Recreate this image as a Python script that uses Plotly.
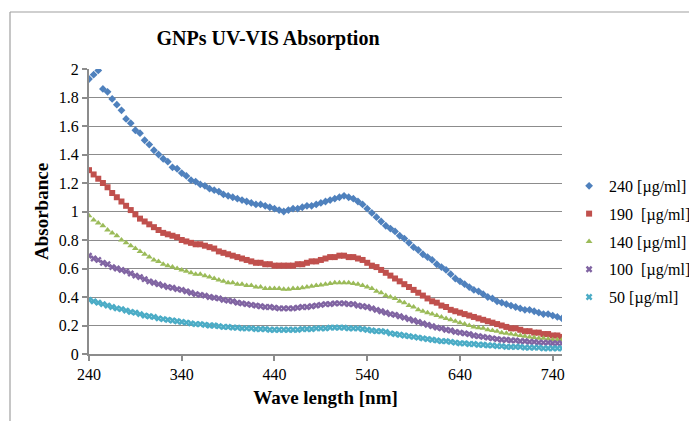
import plotly.graph_objects as go

wavelength = list(range(240, 755, 5))

abs_240 = [1.93, 1.96, 1.99, 1.86, 1.84, 1.79, 1.75, 1.71, 1.65, 1.62,
           1.57, 1.55, 1.50, 1.47, 1.43, 1.40, 1.37, 1.35, 1.31, 1.30,
           1.27, 1.25, 1.22, 1.21, 1.19, 1.18, 1.16, 1.15, 1.14, 1.12,
           1.11, 1.10, 1.09, 1.08, 1.07, 1.06, 1.05, 1.05, 1.04, 1.03,
           1.02, 1.01, 1.00, 1.01, 1.02, 1.02, 1.03, 1.04, 1.04, 1.05,
           1.06, 1.07, 1.08, 1.09, 1.10, 1.11, 1.10, 1.09, 1.07, 1.05,
           1.02, 0.99, 0.96, 0.93, 0.90, 0.88, 0.86, 0.83, 0.81, 0.78,
           0.75, 0.73, 0.70, 0.68, 0.66, 0.63, 0.61, 0.59, 0.56, 0.53,
           0.51, 0.49, 0.47, 0.45, 0.44, 0.42, 0.40, 0.39, 0.37, 0.36,
           0.35, 0.34, 0.33, 0.32, 0.31, 0.31, 0.30, 0.29, 0.28, 0.28,
           0.27, 0.26, 0.25]

abs_190 = [1.29, 1.26, 1.23, 1.20, 1.17, 1.13, 1.10, 1.07, 1.04, 1.01,
           0.98, 0.95, 0.93, 0.91, 0.89, 0.87, 0.85, 0.84, 0.83, 0.82,
           0.80, 0.79, 0.78, 0.77, 0.77, 0.76, 0.75, 0.74, 0.72, 0.71,
           0.70, 0.69, 0.68, 0.67, 0.66, 0.65, 0.64, 0.64, 0.63, 0.63,
           0.62, 0.62, 0.62, 0.62, 0.62, 0.63, 0.63, 0.64, 0.65, 0.65,
           0.66, 0.67, 0.68, 0.68, 0.69, 0.69, 0.68, 0.68, 0.67, 0.66,
           0.64, 0.62, 0.61, 0.59, 0.57, 0.55, 0.53, 0.51, 0.49, 0.47,
           0.45, 0.43, 0.41, 0.39, 0.37, 0.36, 0.34, 0.33, 0.31, 0.30,
           0.29, 0.28, 0.27, 0.26, 0.25, 0.24, 0.23, 0.22, 0.21, 0.20,
           0.19, 0.18, 0.18, 0.17, 0.16, 0.16, 0.15, 0.15, 0.14, 0.14,
           0.13, 0.13, 0.12]

abs_140 = [0.97, 0.94, 0.92, 0.90, 0.87, 0.85, 0.83, 0.80, 0.78, 0.76,
           0.74, 0.72, 0.70, 0.68, 0.66, 0.65, 0.63, 0.62, 0.61, 0.60,
           0.59, 0.58, 0.57, 0.56, 0.56, 0.55, 0.54, 0.53, 0.52, 0.51,
           0.50, 0.50, 0.49, 0.49, 0.48, 0.48, 0.47, 0.47, 0.46, 0.46,
           0.46, 0.46, 0.455, 0.455, 0.46, 0.46, 0.465, 0.47, 0.475, 0.48,
           0.485, 0.49, 0.495, 0.50, 0.50, 0.50, 0.50, 0.495, 0.49, 0.48,
           0.47, 0.46, 0.44, 0.43, 0.41, 0.40, 0.39, 0.37, 0.36, 0.34,
           0.33, 0.31, 0.30, 0.29, 0.28, 0.27, 0.26, 0.25, 0.24, 0.23,
           0.22, 0.21, 0.20, 0.19, 0.185, 0.18, 0.17, 0.165, 0.16, 0.15,
           0.145, 0.14, 0.135, 0.13, 0.125, 0.12, 0.115, 0.11, 0.11, 0.105,
           0.10, 0.10, 0.10]

abs_100 = [0.69, 0.67, 0.66, 0.64, 0.63, 0.61, 0.60, 0.59, 0.58, 0.565,
           0.55, 0.54, 0.525, 0.51, 0.50, 0.49, 0.48, 0.47, 0.465, 0.455,
           0.45, 0.44, 0.43, 0.42, 0.415, 0.41, 0.40, 0.395, 0.39, 0.38,
           0.375, 0.37, 0.36, 0.355, 0.35, 0.345, 0.34, 0.335, 0.33, 0.33,
           0.325, 0.32, 0.32, 0.32, 0.32, 0.325, 0.33, 0.33, 0.335, 0.34,
           0.345, 0.35, 0.35, 0.355, 0.355, 0.355, 0.35, 0.35, 0.34, 0.335,
           0.33, 0.32, 0.31, 0.30, 0.29, 0.28, 0.275, 0.265, 0.255, 0.245,
           0.235, 0.225, 0.215, 0.205, 0.195, 0.185, 0.18, 0.17, 0.165, 0.155,
           0.15, 0.145, 0.14, 0.13, 0.125, 0.12, 0.115, 0.11, 0.105, 0.10,
           0.10, 0.095, 0.095, 0.09, 0.09, 0.085, 0.085, 0.08, 0.08, 0.08,
           0.075, 0.075, 0.075]

abs_50 = [0.38, 0.37, 0.36, 0.35, 0.34, 0.33, 0.32, 0.315, 0.305, 0.295,
          0.29, 0.28, 0.27, 0.265, 0.26, 0.25, 0.245, 0.24, 0.235, 0.23,
          0.225, 0.22, 0.215, 0.21, 0.21, 0.205, 0.20, 0.20, 0.195, 0.19,
          0.19, 0.185, 0.185, 0.18, 0.18, 0.18, 0.175, 0.175, 0.175, 0.17,
          0.17, 0.17, 0.17, 0.17, 0.17, 0.17, 0.175, 0.175, 0.175, 0.18,
          0.18, 0.18, 0.185, 0.185, 0.185, 0.185, 0.18, 0.18, 0.18, 0.175,
          0.17, 0.165, 0.16, 0.16, 0.155, 0.145, 0.14, 0.135, 0.13, 0.125,
          0.12, 0.115, 0.11, 0.105, 0.10, 0.095, 0.09, 0.09, 0.085, 0.08,
          0.075, 0.075, 0.07, 0.07, 0.065, 0.065, 0.06, 0.06, 0.055, 0.055,
          0.05, 0.05, 0.05, 0.05, 0.045, 0.045, 0.045, 0.045, 0.04, 0.04,
          0.04, 0.04, 0.04]

series_names = ["240 [µg/ml]", "190\u00a0 [µg/ml]", "140 [µg/ml]",
                "100\u00a0 [µg/ml]", "50 [µg/ml]"]
series_values = [abs_240, abs_190, abs_140, abs_100, abs_50]
colors = ["#4F81BD", "#C0504D", "#9BBB59", "#8064A2", "#4BACC6"]
symbols = ["diamond", "square", "triangle-up", "x", "x"]
x_ticks = [240, 340, 440, 540, 640, 740]

FONT = "Liberation Serif, Times New Roman, serif"

# page body adds an 8px offset; figure is sized to end at the window edge
W, H = 689, 413
L, T, R, B = 81, 61, 135, 67
PW, PH = W - L - R, H - T - B

fig = go.Figure()
for i, (name, vals, col, sym) in enumerate(zip(series_names, series_values, colors, symbols)):
    fig.add_trace(go.Scatter(
        x=wavelength, y=vals, mode="markers", name=name,
        legendgroup=f"g{i}",
        marker=dict(color=col, symbol=sym, size=6, line=dict(width=0)),
    ))

grid = "#8C8C8C"
border = "#A0A0A0"
bx = (2 - L) / PW
by = (H - B - 4) / PH
fig.update_layout(
    width=W, height=H,
    margin=dict(l=L, r=R, t=T, b=B, autoexpand=False),
    paper_bgcolor="white", plot_bgcolor="white",
    font=dict(family=FONT, color="black", size=16),
    title=dict(text="<b>GNPs UV-VIS Absorption</b>", x=260/W, xanchor="center",
               y=1-30/H, yanchor="middle", xref="container", yref="container",
               font=dict(family=FONT, size=20, color="black")),
    showlegend=True,
    legend=dict(x=1.015, xanchor="left", y=0.395, yanchor="middle",
                font=dict(family=FONT, size=16, color="black"),
                tracegroupgap=4, traceorder="grouped", itemsizing="trace",
                bgcolor="rgba(0,0,0,0)"),
    xaxis=dict(range=[240, 750], tickvals=x_ticks, ticktext=[str(v) for v in x_ticks],
               showgrid=False, zeroline=False, showline=True, linecolor=grid, linewidth=2,
               ticks="outside", ticklen=5, tickcolor=grid, tickwidth=1.5,
               tickfont=dict(family=FONT, size=16),
               title=dict(text="<b>Wave length [nm]</b>", font=dict(family=FONT, size=19),
                          standoff=8)),
    yaxis=dict(range=[0, 2], dtick=0.2, tick0=0,
               showgrid=True, gridcolor=grid, gridwidth=1.2, zeroline=False,
               showline=True, linecolor=grid, linewidth=2,
               ticks="outside", ticklen=5, tickcolor=grid, tickwidth=1.5,
               tickfont=dict(family=FONT, size=16),
               title=dict(text="<b>Absorbance</b>", font=dict(family=FONT, size=19),
                          standoff=5)),
    shapes=[
        dict(type="line", xref="paper", yref="paper", x0=bx, x1=2.0, y0=by, y1=by,
             line=dict(color=border, width=1.2)),
        dict(type="line", xref="paper", yref="paper", x0=bx, x1=bx, y0=by, y1=-1.0,
             line=dict(color=border, width=1.2)),
    ],
)

fig.write_html("out.html")
